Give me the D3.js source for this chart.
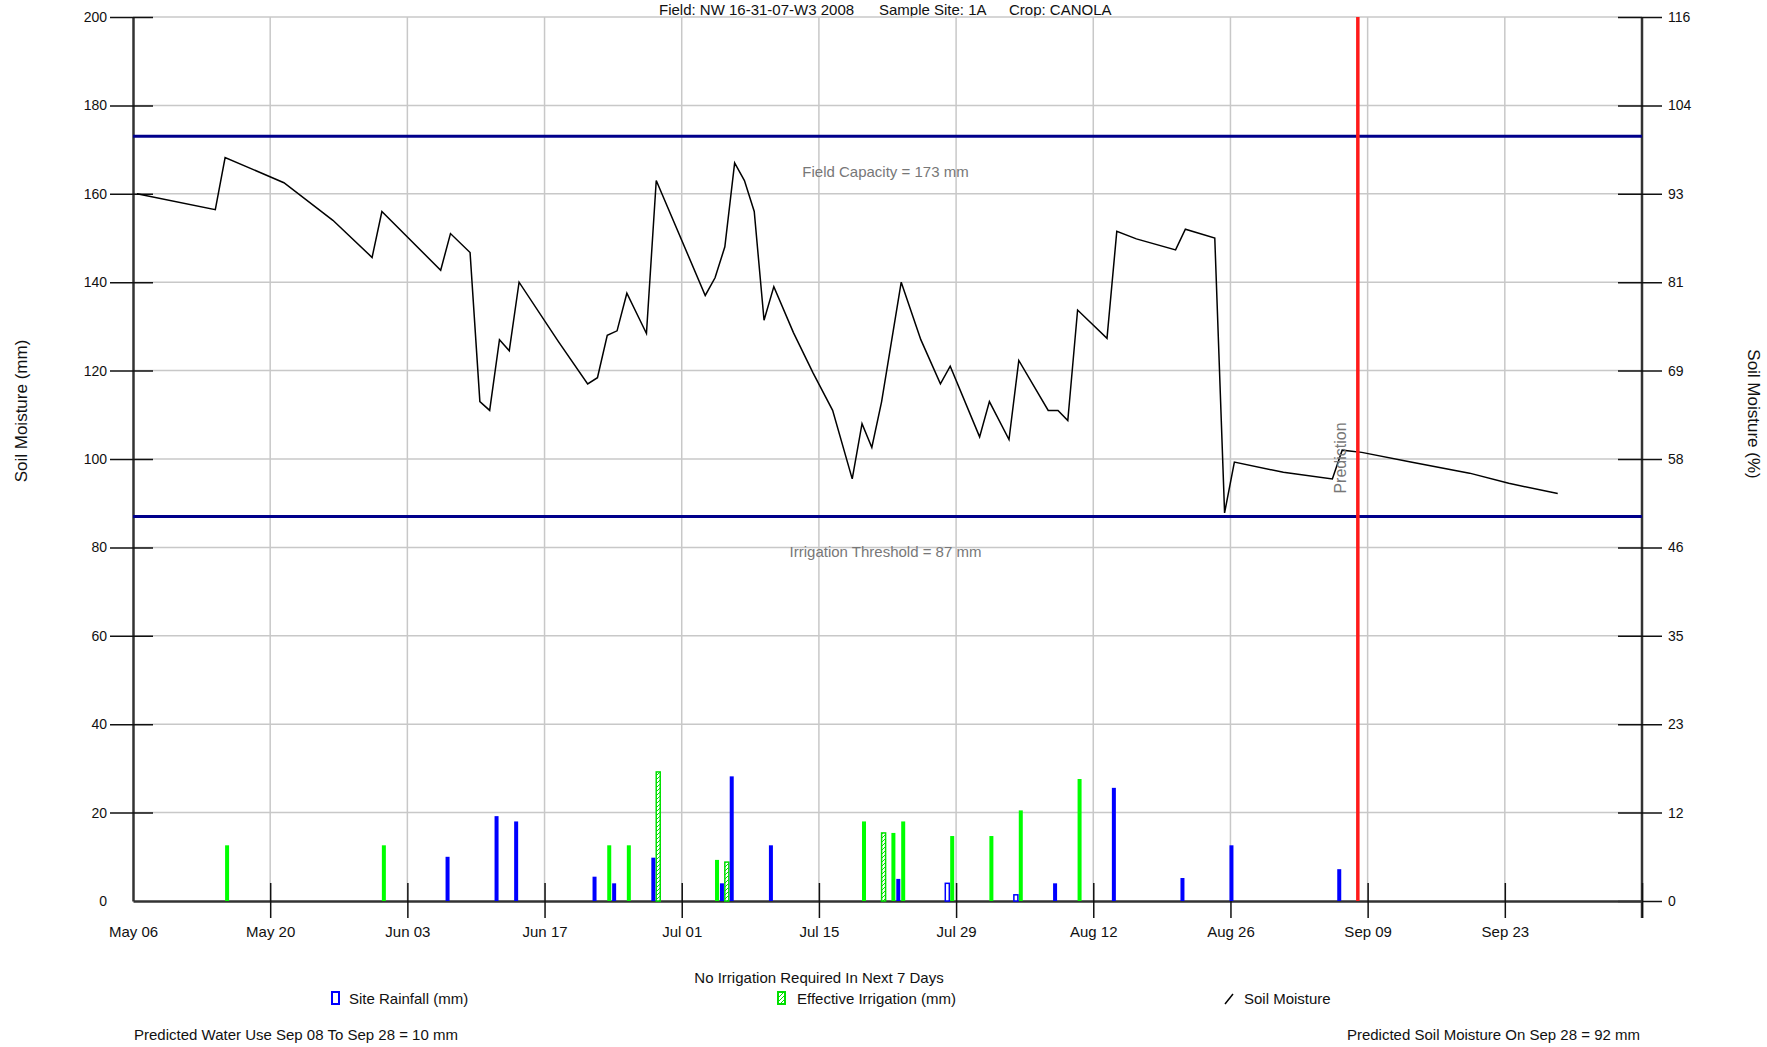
<!DOCTYPE html>
<html>
<head>
<meta charset="utf-8">
<script src="https://cdn.jsdelivr.net/npm/d3@7"></script>
<style>
  body { margin: 0; background: #fff; }
  text { font-family: "Liberation Sans", Arial, sans-serif; }
</style>
</head>
<body>
<div id="soil_chart"></div>
<script>
// soil moisture balance chart, canola site 1A
var startDate = "2008-05-06", endDate = "2008-10-07";
var tickDates = ["2008-05-06", "2008-05-20", "2008-06-03", "2008-06-17", "2008-07-01", "2008-07-15",
    "2008-07-29", "2008-08-12", "2008-08-26", "2008-09-09", "2008-09-23", "2008-10-07"];
var tickLabels = ["May 06", "May 20", "Jun 03", "Jun 17", "Jul 01", "Jul 15", "Jul 29", "Aug 12", "Aug 26", "Sep 09", "Sep 23", ""];
var leftTicks = [0, 20, 40, 60, 80, 100, 120, 140, 160, 180, 200];
var rightTickLabels = [0, 12, 23, 35, 46, 58, 69, 81, 93, 104, 116];

var fieldCapacity = 173, irrigationThreshold = 87;
var predictionDate = "2008-09-08";

// daily soil moisture (mm), only the turning points
var soilDates = ["05-06", "05-14", "05-15", "05-21", "05-26", "05-30", "05-31", "06-06", "06-07", "06-09",
    "06-10", "06-11", "06-12", "06-13", "06-14", "06-18", "06-21", "06-22", "06-23", "06-24",
    "06-25", "06-27", "06-28", "07-03", "07-04", "07-05", "07-06", "07-07", "07-08", "07-09",
    "07-10", "07-12", "07-14", "07-16", "07-18", "07-19", "07-20", "07-21", "07-23", "07-25",
    "07-27", "07-28", "07-31", "08-01", "08-03", "08-04", "08-07", "08-08", "08-09", "08-10",
    "08-13", "08-14", "08-16", "08-20", "08-21", "08-24", "08-25", "08-26", "08-31", "09-05",
    "09-06", "09-08", "09-13", "09-19", "09-23", "09-28"];
var soilValues = [160, 156.4, 168.2, 162.5, 154, 145.6, 156, 142.7, 151, 146.7,
    113, 111, 127, 124.5, 140, 126.6, 117, 118.4, 128, 129,
    137.5, 128.4, 163, 137, 141, 148, 167, 163, 156, 131.4,
    139, 128.6, 119.5, 111, 95.5, 108, 102.6, 113, 140, 127,
    117, 121, 105, 113, 104.4, 122.3, 111, 111, 108.7, 133.7,
    127.3, 151.5, 149.8, 147.3, 152, 150, 87.8, 99.3, 97, 95.5,
    102, 101.5, 99.3, 96.8, 94.5, 92.2];

var rainDates = ["06-07", "06-12", "06-14", "06-22", "06-24", "06-28", "07-05", "07-06", "07-10", "07-23",
    "07-28", "08-04", "08-08", "08-14", "08-21", "08-26", "09-06"];
var rainValues = [10, 19.2, 18, 5.5, 4, 9.8, 4, 28.2, 12.6, 5, 4, 1.4, 4, 25.6, 5.2, 12.6, 7.2];
var rainHollow = ["07-28", "08-04"];

var irrDates = ["05-15", "05-31", "06-23", "06-25", "06-28", "07-04", "07-05", "07-19", "07-21", "07-22",
    "07-23", "07-28", "08-01", "08-04", "08-10"];
var irrValues = [12.6, 12.6, 12.6, 12.6, 29.2, 9.3, 8.8, 18, 15.4, 15.4, 18, 14.7, 14.7, 20.5, 27.6];
var irrHatched = ["06-28", "07-05", "07-21"];

var width = 1767, height = 1047;
var plot = { left: 133, right: 1642, top: 17, bottom: 901 };
var parse = d3.utcParse("%Y-%m-%d");
var md = function (s) { return parse("2008-" + s); };

var x = d3.scaleUtc().domain([parse(startDate), parse(endDate)]).range([plot.left, plot.right]);
var y = d3.scaleLinear().domain([0, 200]).range([plot.bottom, plot.top]);
var dayW = x(d3.utcDay.offset(parse(startDate), 1)) - x(parse(startDate));

var svg = d3.select("#soil_chart").append("svg")
    .attr("width", width).attr("height", height)
    .style("background", "#fff");

var defs = svg.append("defs");
var hatch = defs.append("pattern").attr("id", "hatch")
    .attr("patternUnits", "userSpaceOnUse").attr("width", 4).attr("height", 4);
hatch.append("rect").attr("width", 4).attr("height", 4).attr("fill", "#fff");
hatch.append("path").attr("d", "M0,4 L4,0").attr("stroke", "#00e000").attr("stroke-width", 1);

// title
var titleParts = [["Field: NW 16-31-07-W3 2008", 659], ["Sample Site: 1A", 879], ["Crop: CANOLA", 1009]];
svg.selectAll(".title").data(titleParts).enter().append("text")
    .attr("x", function (d) { return d[1]; }).attr("y", 15)
    .attr("font-size", "15px").attr("fill", "#111")
    .text(function (d) { return d[0]; });

// gridlines
svg.append("g").selectAll("line").data(leftTicks.slice(1)).enter().append("line")
    .attr("x1", plot.left).attr("x2", plot.right)
    .attr("y1", function (d) { return y(d); }).attr("y2", function (d) { return y(d); })
    .attr("stroke", "#c8c8c8").attr("stroke-width", 1.5);
svg.append("g").selectAll("line").data(tickDates.slice(1, -1)).enter().append("line")
    .attr("x1", function (d) { return x(parse(d)); }).attr("x2", function (d) { return x(parse(d)); })
    .attr("y1", plot.top).attr("y2", plot.bottom)
    .attr("stroke", "#c8c8c8").attr("stroke-width", 1.5);

// left axis
var leftAxis = svg.append("g").attr("transform", "translate(" + plot.left + ",0)")
    .call(d3.axisLeft(y).tickValues(leftTicks).tickSize(23).tickSizeOuter(0).tickPadding(3));
leftAxis.selectAll(".tick line").attr("x2", -23).attr("x1", 20).attr("stroke", "#111").attr("stroke-width", 1.5);
leftAxis.select(".domain").attr("stroke", "#333").attr("stroke-width", 2.5);
leftAxis.selectAll(".tick text").attr("font-size", "14px").attr("fill", "#111")
    .attr("font-family", "Liberation Sans, Arial, sans-serif");
leftAxis.select(".tick:first-of-type line").remove();

// right axis
var rightAxis = svg.append("g").attr("transform", "translate(" + plot.right + ",0)")
    .call(d3.axisRight(y).tickValues(leftTicks).tickSize(20).tickSizeOuter(0).tickPadding(6)
        .tickFormat(function (d, i) { return rightTickLabels[i]; }));
rightAxis.selectAll(".tick line").attr("x1", -24).attr("stroke", "#111").attr("stroke-width", 1.5);
rightAxis.select(".domain").attr("d", "M0," + plot.top + "V" + (plot.bottom + 17)).attr("stroke", "#333").attr("stroke-width", 2.5);
rightAxis.selectAll(".tick text").attr("font-size", "14px").attr("fill", "#111")
    .attr("font-family", "Liberation Sans, Arial, sans-serif");

// bottom axis
var bottomAxis = svg.append("g").attr("transform", "translate(0," + plot.bottom + ")")
    .call(d3.axisBottom(x).tickValues(tickDates.map(parse)).tickSize(17).tickSizeOuter(0).tickPadding(8)
        .tickFormat(function (d, i) { return tickLabels[i]; }));
bottomAxis.selectAll(".tick line").attr("y1", -18).attr("stroke", "#111").attr("stroke-width", 1.5);
bottomAxis.select(".tick:first-of-type line").remove();
bottomAxis.select(".domain").attr("stroke", "#333").attr("stroke-width", 2.5);
bottomAxis.selectAll(".tick text").attr("font-size", "15px").attr("fill", "#111")
    .attr("font-family", "Liberation Sans, Arial, sans-serif");

// field capacity & irrigation threshold
[[fieldCapacity, "Field Capacity = " + fieldCapacity + " mm"],
 [irrigationThreshold, "Irrigation Threshold = " + irrigationThreshold + " mm"]].forEach(function (d) {
    svg.append("line")
        .attr("x1", plot.left).attr("x2", plot.right)
        .attr("y1", y(d[0])).attr("y2", y(d[0]))
        .attr("stroke", "#00008b").attr("stroke-width", 3);
    svg.append("text")
        .attr("x", (plot.left + plot.right) / 2 - 2).attr("y", y(d[0]) + 41)
        .attr("text-anchor", "middle").attr("font-size", "15px").attr("fill", "#777")
        .text(d[1]);
});

// bars
svg.append("g").selectAll("rect").data(irrDates).enter().append("rect")
    .attr("x", function (d) { return x(md(d)) + dayW / 2 - 1; })
    .attr("y", function (d, i) { return y(irrValues[i]); })
    .attr("width", 4)
    .attr("height", function (d, i) { return y(0) - y(irrValues[i]); })
    .attr("fill", function (d) { return irrHatched.indexOf(d) >= 0 ? "url(#hatch)" : "#00ff00"; })
    .attr("stroke", function (d) { return irrHatched.indexOf(d) >= 0 ? "#00e000" : "none"; })
    .attr("stroke-width", 1.5);

svg.append("g").selectAll("rect").data(rainDates).enter().append("rect")
    .attr("x", function (d) { return x(md(d)) - 1; })
    .attr("y", function (d, i) { return y(rainValues[i]); })
    .attr("width", 4)
    .attr("height", function (d, i) { return y(0) - y(rainValues[i]); })
    .attr("fill", function (d) { return rainHollow.indexOf(d) >= 0 ? "#fff" : "#0000ff"; })
    .attr("stroke", function (d) { return rainHollow.indexOf(d) >= 0 ? "#0000ff" : "none"; })
    .attr("stroke-width", 1.5);

// soil moisture line
var line = d3.line()
    .x(function (d) { return x(md(d)) + dayW * 0.4; })
    .y(function (d, i) { return y(soilValues[i]); });
svg.append("path").datum(soilDates)
    .attr("d", line)
    .attr("fill", "none").attr("stroke", "#000").attr("stroke-width", 1.5);

// prediction marker
var px = x(parse(predictionDate));
svg.append("line").attr("x1", px).attr("x2", px).attr("y1", plot.top).attr("y2", plot.bottom)
    .attr("stroke", "#ff1a1a").attr("stroke-width", 3.5);
svg.append("text")
    .attr("transform", "translate(" + (px - 12) + "," + 458 + ") rotate(-90)")
    .attr("text-anchor", "middle").attr("font-size", "16px").attr("fill", "#777")
    .text("Prediction");

// axis titles
svg.append("text").attr("transform", "translate(27,411) rotate(-90)")
    .attr("text-anchor", "middle").attr("font-size", "17px").attr("fill", "#111")
    .text("Soil Moisture (mm)");
svg.append("text").attr("transform", "translate(1748,414) rotate(90)")
    .attr("text-anchor", "middle").attr("font-size", "17px").attr("fill", "#111")
    .text("Soil Moisture (%)");

// legend
svg.append("text").attr("x", 819).attr("y", 983).attr("text-anchor", "middle")
    .attr("font-size", "15px").attr("fill", "#111").text("No Irrigation Required In Next 7 Days");
svg.append("rect").attr("x", 332).attr("y", 992).attr("width", 7).attr("height", 12)
    .attr("fill", "#fff").attr("stroke", "#0000ff").attr("stroke-width", 2);
svg.append("text").attr("x", 349).attr("y", 1004).attr("font-size", "15px").attr("fill", "#111")
    .text("Site Rainfall (mm)");
svg.append("rect").attr("x", 778).attr("y", 992).attr("width", 7).attr("height", 12)
    .attr("fill", "url(#hatch)").attr("stroke", "#00e000").attr("stroke-width", 2);
svg.append("text").attr("x", 797).attr("y", 1004).attr("font-size", "15px").attr("fill", "#111")
    .text("Effective Irrigation (mm)");
svg.append("line").attr("x1", 1225).attr("y1", 1004).attr("x2", 1233).attr("y2", 994)
    .attr("stroke", "#000").attr("stroke-width", 1.5);
svg.append("text").attr("x", 1244).attr("y", 1004).attr("font-size", "15px").attr("fill", "#111")
    .text("Soil Moisture");

svg.append("text").attr("x", 134).attr("y", 1040).attr("font-size", "15px").attr("fill", "#111")
    .text("Predicted Water Use Sep 08 To Sep 28 = 10 mm");
svg.append("text").attr("x", 1640).attr("y", 1040).attr("text-anchor", "end")
    .attr("font-size", "15px").attr("fill", "#111")
    .text("Predicted Soil Moisture On Sep 28 = 92 mm");
</script>
</body>
</html>
